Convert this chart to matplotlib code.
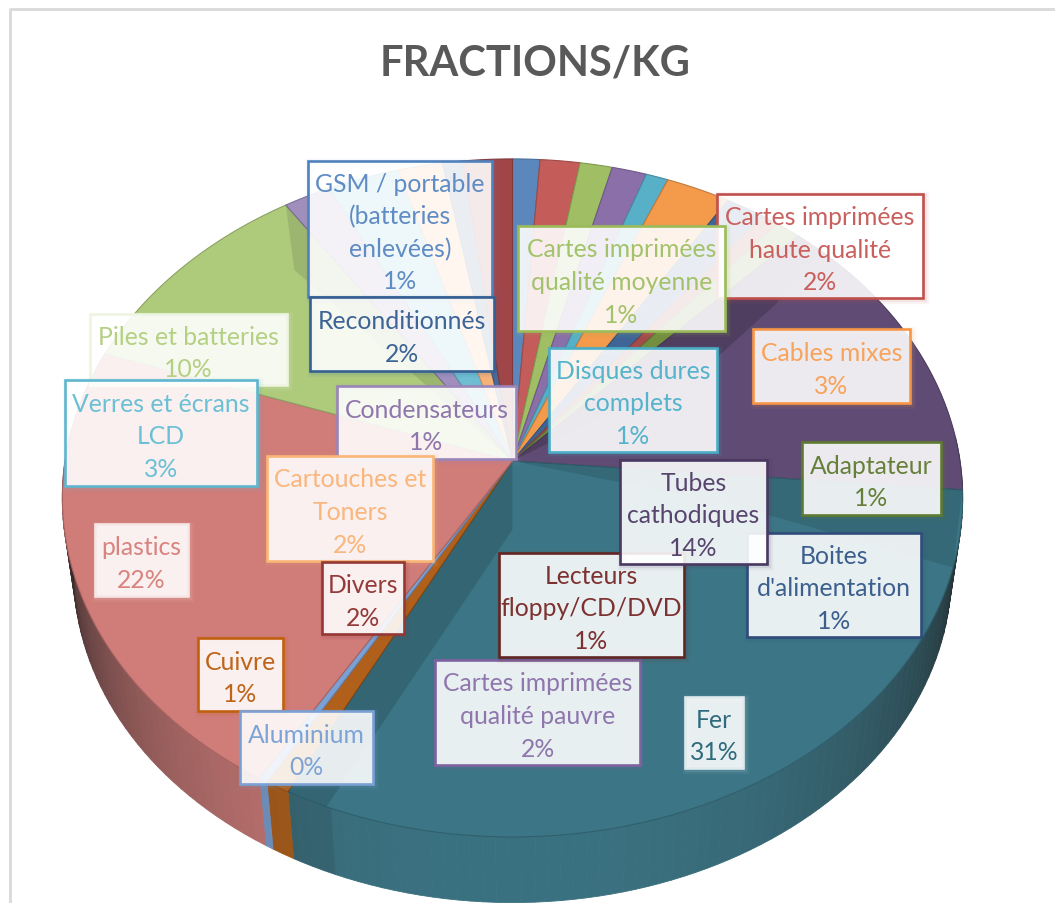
import numpy as np
import matplotlib
matplotlib.use("Agg")
import matplotlib.pyplot as plt
from matplotlib.patches import Rectangle

plt.rcParams['font.family'] = ['Lato', 'DejaVu Sans']

# data, clockwise from the top of the pie
names = ["GSM / portable\n(batteries\nenlevées)", "Cartes imprimées\nhaute qualité",
         "Cartes imprimées\nqualité moyenne", "Condensateurs", "Disques dures\ncomplets",
         "Cables mixes", "Reconditionnés", "Lecteurs\nfloppy/CD/DVD", "Adaptateur",
         "Tubes\ncathodiques", "Fer", "Cuivre", "Aluminium", "plastics",
         "Piles et batteries", "Cartes imprimées\nqualité pauvre", "Verres et écrans\nLCD",
         "Cartouches et\nToners", "Boites\nd'alimentation", "Divers"]
values = [1.1, 1.6, 1.3, 1.4, 0.9, 2.6, 1.6, 0.7, 1.0, 14.4, 31.4, 0.8, 0.3, 22.0,
          10.4, 1.9, 2.9, 1.8, 0.8, 2.0]

# styles
colors = ["#5b87bd", "#c45c5a", "#a0bf65", "#8a6fa8", "#57afc8", "#f39a4b",
          "#3f6596", "#a34a4b", "#728e3e", "#5f4b73", "#3c7686", "#b0601a",
          "#7ba0d4", "#d07c79", "#aecb7c", "#a08fbd", "#6fbdd2", "#f7b27a",
          "#4a6a98", "#a04648"]
text_colors = ["#5f8cc4", "#c9605d", "#a3c26c", "#8f76ad", "#55b3cc", "#f8a35c",
               "#3d6496", "#7d3231", "#66803a", "#57456e", "#2f6b7c", "#bf6418",
               "#7ea3d6", "#d9837f", "#b4d083", "#8f76ad", "#6cc0d6", "#f9b67d",
               "#3d5f8e", "#943a3a"]
edge_colors = ["#4f81bd", "#c0504d", "#9bbb59", "#9a85b8", "#4bacc6", "#f79646",
               "#366092", "#632523", "#5f7a32", "#4a3861", "#dfeaee", "#c0600f",
               "#7ba0d4", "#f7e6e5", "#eef4e2", "#7f63a1", "#5fb6cf", "#f9b676",
               "#2f4c7a", "#953735"]
# label boxes: left, top, right, bottom in pixels
boxes = [(308, 162, 492, 298), (717, 195, 923, 299), (518, 227, 725, 332),
         (337, 387, 516, 460), (549, 349, 717, 453), (753, 330, 910, 404),
         (310, 298, 494, 372), (499, 554, 684, 658), (802, 443, 941, 516),
         (620, 461, 767, 565), (685, 698, 743, 769), (198, 639, 283, 712),
         (240, 712, 373, 785), (95, 525, 188, 597), (90, 315, 287, 386),
         (435, 661, 640, 766), (65, 381, 257, 487), (267, 457, 433, 562),
         (747, 534, 921, 638), (322, 563, 404, 635)]
draw_order = [0, 6, 14, 16, 3, 17, 13, 19, 11, 12, 15, 18, 7, 9, 10, 8, 5, 4, 1, 2]

cx, cy = 512.5, 462
rx, ry, k = 447.5, 335, 0.109
depth, bottom_scale = 75, 0.975

def project(theta, r=1.0):
    # theta in degrees clockwise from the back of the pie
    t = np.radians(theta)
    u = r*np.sin(t)
    v = r*np.cos(t)
    w = 1/(1 + k*v)
    return cx + rx*u*w, cy - ry*v*w

def bottom(theta):
    x, y = project(theta)
    return cx + (x-cx)*bottom_scale, cy + depth + (y-cy)*bottom_scale

def blend(color, other, a):
    c = np.array(matplotlib.colors.to_rgb(color))
    o = np.array(matplotlib.colors.to_rgb(other))
    return tuple(c*(1-a) + o*a)

fig = plt.figure(figsize=(10.55, 9.04), dpi=100)
ax = fig.add_axes([0, 0, 1, 1])
ax.set_xlim(0, 1055)
ax.set_ylim(904, 0)
ax.axis("off")

# frame of the chart area
ax.plot([10, 10, 1055], [904, 10, 10], color="#d9d9d9", lw=2)

edges = np.concatenate([[0], np.cumsum(values)])/np.sum(values)*360
fer_end = edges[11]

# side wall, only the part facing the viewer
for i in range(len(values)):
    a0, a1 = max(edges[i], 86), min(edges[i+1], 274)
    if a1 <= a0:
        continue
    steps = np.arange(a0, a1 + 1.5, 1.5)
    steps[-1] = a1
    steps = steps[steps <= a1]
    for s0, s1 in zip(steps[:-1], steps[1:]):
        mid = (s0+s1)/2
        # wall gets darker towards the sides
        shade = min(1, abs(mid-180)/92)**2 + 0.05
        if i == 10 and mid > fer_end-5:
            shade += 0.1
        xa, ya = project(s0)
        xb, yb = project(s1)
        xc, yc = bottom(s1)
        xd, yd = bottom(s0)
        c = blend(colors[i], "#1c1c1c", min(shade, 0.9))
        ax.fill([xa, xb, xc, xd], [ya, yb, yc, yd], color=c, lw=0.6)

# top faces
for i in range(len(values)):
    t = np.linspace(edges[i], edges[i+1], 60)
    x, y = project(t)
    ax.fill(np.r_[cx, x], np.r_[cy, y], facecolor=colors[i],
            edgecolor=blend(colors[i], "#000000", 0.2), lw=0.8)

# bevel facets, corners as angle and radius
tubes_start = edges[9]
fer_start = edges[10]
piles_end = edges[15]
facets = [([(tubes_start, 1), (tubes_start+4, 1), (tubes_start+8, 0.79), (tubes_start+13, 0.55)], 0.16),
          ([(fer_end, 1), (fer_end-5, 1), (fer_end-11, 0.47), (180, 0.2)], 0.14),
          ([(fer_start, 1), (fer_start+13, 1), (fer_start+10, 0.5)], 0.1),
          ([(piles_end, 1), (piles_end-7, 0.8)], 0.1)]
for corners, a in facets:
    xs = [cx]
    ys = [cy]
    for th, r in corners:
        x, y = project(th, r)
        xs.append(x)
        ys.append(y)
    ax.fill(xs, ys, color="#000000", alpha=a, lw=0)

# title
ax.text(535, 63, "FRACTIONS/KG", ha="center", va="center", fontsize=30,
        fontweight="bold", color="#595959")

# data labels
for n, i in enumerate(draw_order):
    x0, y0, x1, y1 = boxes[i]
    z = 5 + n
    for grow, a in [(6, 0.06), (3, 0.1)]:
        ax.add_patch(Rectangle((x0+2, y0+2), x1-x0, y1-y0, facecolor="none",
                               edgecolor=edge_colors[i], alpha=a, lw=grow, zorder=z))
    ax.add_patch(Rectangle((x0, y0), x1-x0, y1-y0, facecolor="#ffffff", alpha=0.89,
                           edgecolor="none", zorder=z))
    ax.add_patch(Rectangle((x0, y0), x1-x0, y1-y0, facecolor="none",
                           edgecolor=edge_colors[i], lw=1.9, zorder=z))
    lines = names[i].split("\n") + ["%d%%" % round(values[i])]
    ym = (y0+y1)/2 + 3
    for j, line in enumerate(lines):
        ax.text((x0+x1)/2, ym + (j-(len(lines)-1)/2)*32.6, line, ha="center",
                va="center", fontsize=17.8, color=text_colors[i], zorder=z)

fig.savefig("out.png", dpi=100)
